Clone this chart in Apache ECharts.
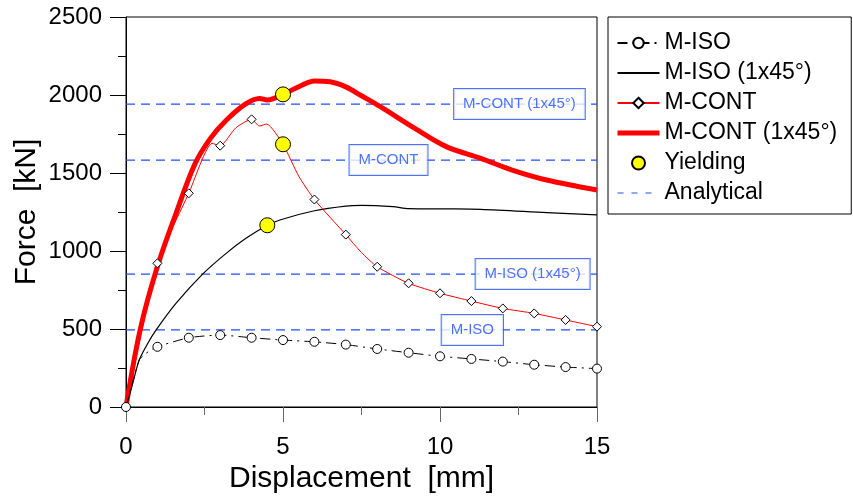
<!DOCTYPE html>
<html>
<head>
<meta charset="utf-8">
<script src="https://cdn.jsdelivr.net/npm/echarts@6/dist/echarts.min.js"></script>
<style>
  html, body { margin: 0; padding: 0; background: #fff; }
  #chart { width: 853px; height: 499px; }
</style>
</head>
<body>
<div id="chart"></div>
<script>
// values: [displacement mm, force kN]
const mIso = [[0, 0], [0.42, 300], [0.64, 345], [1, 386], [2, 444], [3, 461], [4, 444], [5, 429], [6, 418],
  [7, 400], [8, 372], [9, 348], [10, 325], [11, 308], [12, 291], [13, 271], [14, 256], [15, 246]]
const mIso45 = [[0, 0], [0.2, 140], [0.42, 301], [0.7, 410], [0.96, 494], [1.59, 664], [2.44, 852],
  [3.19, 985], [3.82, 1081], [4.46, 1160], [4.9, 1199], [6, 1258], [7, 1288], [7.5, 1292], [8.5, 1284],
  [9, 1272], [10.2, 1270], [11.3, 1267], [13.4, 1246], [15, 1231]]
const mCont = [[0, 0], [1, 921], [2, 1370], [2.74, 1690], [3, 1675], [3.5, 1790], [4, 1844], [4.25, 1801],
  [4.48, 1814], [5, 1684], [5.5, 1480], [6, 1330], [7, 1105], [7.5, 990], [8, 899], [9, 793], [10, 729],
  [11, 679], [12, 632], [13, 600], [14, 558], [15, 515]]
const mCont45 = [[0, 0], [0.45, 494], [1, 900], [1.6, 1245], [2.2, 1560], [2.7, 1725], [3.2, 1840],
  [3.8, 1942], [4.25, 1978], [4.5, 1968], [5, 2004], [5.55, 2058], [6, 2090], [6.5, 2085], [7, 2052],
  [7.5, 1995], [8.1, 1925], [9.2, 1786], [10.2, 1669], [11.3, 1594], [12.3, 1519], [13.4, 1455], [15, 1391]]
const yielding = [[5, 2004], [5, 1684], [4.5, 1165]]

const analyticalNames = ['M-ISO', 'M-ISO (1x45°)', 'M-CONT', 'M-CONT (1x45°)']
const analyticalValues = [494, 852, 1583, 1942]
const analyticalLabelX = [11.03, 12.95, 8.36, 12.53]

const xTicks = [0, 5, 10, 15]
const yTicks = [0, 500, 1000, 1500, 2000, 2500]

const FONT = 'Liberation Sans, Arial, sans-serif'
const BLUE = '#1f4fff'

// markers only on the whole-mm points
const withMarkers = pts => pts.map(p => Number.isInteger(p[0]) ? p : { value: p, symbol: 'none' })

const myChart = echarts.init(document.getElementById('chart'))

const analyticalLines = analyticalValues.map(v => ({
  name: 'Analytical',
  type: 'line',
  z: 1,
  symbol: 'none',
  data: [[xTicks[0], v], [xTicks[xTicks.length - 1], v]],
  lineStyle: { color: BLUE, width: 1.3, type: [9, 6] },
  itemStyle: { color: BLUE },
  silent: true
}))

// lines without markers get an invisible legend symbol
const hidden = { opacity: 0 }

const option = {
  animation: false,
  textStyle: { fontFamily: FONT },
  grid: {
    left: 126, top: 17, width: 471, height: 390,
    outerBoundsMode: 'none',
    containLabel: false,
    show: true, borderColor: '#000', borderWidth: 1, backgroundColor: 'transparent'
  },
  legend: {
    orient: 'vertical',
    left: 608,
    top: 17,
    padding: [14, 14, 9, 7],
    itemGap: 6,
    itemWidth: 42,
    itemHeight: 13,
    borderColor: '#000',
    borderWidth: 1,
    borderRadius: 0,
    textStyle: { fontSize: 23, lineHeight: 24, color: '#000', fontFamily: FONT },
    data: [
      { name: 'M-ISO' },
      { name: 'M-ISO (1x45°)', itemStyle: hidden },
      { name: 'M-CONT' },
      { name: 'M-CONT (1x45°)', itemStyle: hidden, lineStyle: { width: 5 } },
      { name: 'Yielding' },
      { name: 'Analytical', itemStyle: hidden, lineStyle: { width: 1, type: [6, 8] } }
    ]
  },
  xAxis: {
    type: 'value',
    min: 0, max: 15, interval: 5,
    name: 'Displacement  [mm]',
    nameLocation: 'middle',
    nameGap: 57,
    nameMoveOverlap: false,
    nameTextStyle: { fontSize: 30, color: '#000', fontFamily: FONT },
    axisLine: { lineStyle: { color: '#000', width: 1 } },
    axisTick: { show: true, inside: false, length: 15, lineStyle: { color: '#666' } },
    minorTick: { show: true, splitNumber: 2, length: 8, lineStyle: { color: '#666' } },
    axisLabel: { fontSize: 24, color: '#000', margin: 28, fontFamily: FONT, formatter: v => String(v) },
    splitLine: { show: false }
  },
  yAxis: {
    type: 'value',
    min: 0, max: 2500, interval: 500,
    name: 'Force  [kN]',
    nameLocation: 'middle',
    nameGap: 84,
    nameMoveOverlap: false,
    nameTextStyle: { fontSize: 30, color: '#000', fontFamily: FONT },
    axisLine: { show: true, lineStyle: { color: '#000', width: 1 } },
    axisTick: { show: true, inside: false, length: 16, lineStyle: { color: '#000' } },
    minorTick: { show: true, splitNumber: 2, length: 8, lineStyle: { color: '#000' } },
    axisLabel: { fontSize: 24, color: '#000', margin: 24, fontFamily: FONT, formatter: v => String(v) },
    splitLine: { show: false }
  },
  series: [
    ...analyticalLines,
    {
      name: 'analytical labels',
      type: 'scatter',
      z: 2,
      symbol: 'rect',
      symbolSize: 1,
      itemStyle: { color: 'transparent' },
      silent: true,
      data: analyticalNames.map((n, i) => ({ name: n, value: [analyticalLabelX[i], analyticalValues[i]] })),
      label: {
        show: true,
        position: 'inside',
        formatter: p => p.name,
        fontSize: 15,
        fontFamily: FONT,
        color: BLUE,
        backgroundColor: '#fff',
        borderColor: BLUE,
        borderWidth: 1,
        padding: [8, 9, 7, 9]
      }
    },
    {
      name: 'M-CONT (1x45°)',
      type: 'line',
      z: 3,
      smooth: 0.35,
      symbol: 'none',
      data: mCont45,
      lineStyle: { color: '#ff0000', width: 5 },
      itemStyle: { color: '#ff0000' }
    },
    {
      name: 'M-ISO (1x45°)',
      type: 'line',
      z: 3,
      smooth: 0.3,
      symbol: 'none',
      data: mIso45,
      lineStyle: { color: '#000', width: 1.2 },
      itemStyle: { color: '#000' }
    },
    {
      name: 'M-CONT',
      type: 'line',
      z: 4,
      smooth: 0.2,
      symbol: 'diamond',
      symbolSize: 9,
      showAllSymbol: true,
      data: withMarkers(mCont),
      lineStyle: { color: '#ff0000', width: 1 },
      itemStyle: { color: '#fff', borderColor: '#000', borderWidth: 1 }
    },
    {
      name: 'M-ISO',
      type: 'line',
      z: 4,
      smooth: 0.2,
      symbol: 'circle',
      symbolSize: 9,
      showAllSymbol: true,
      data: withMarkers(mIso),
      lineStyle: { color: '#000', width: 1, type: [10, 5, 2, 5] },
      itemStyle: { color: '#fff', borderColor: '#000', borderWidth: 1 }
    },
    {
      name: 'Yielding',
      type: 'scatter',
      z: 5,
      symbol: 'circle',
      symbolSize: 15,
      data: yielding,
      itemStyle: { color: '#ffff00', borderColor: '#000', borderWidth: 1, opacity: 1 }
    }
  ]
}

myChart.setOption(option)
</script>
</body>
</html>
